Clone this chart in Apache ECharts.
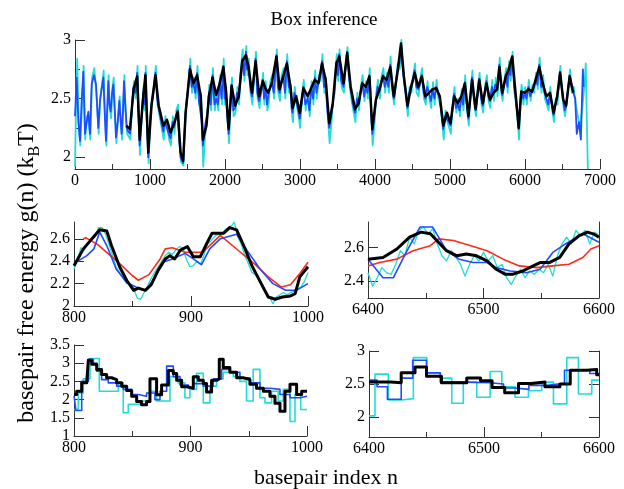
<!DOCTYPE html>
<html>
<head>
<meta charset="utf-8">
<script src="https://cdn.jsdelivr.net/npm/echarts@6/dist/echarts.min.js"></script>
<style>
html, body { margin: 0; padding: 0; background: #fff; }
#chart { width: 624px; height: 489px; }
</style>
</head>
<body>
<div id="chart"></div>
<script>
// ---- data: [basepair index, g(n)] ----
var topCyan = [[0,1.92],[15,2.5],[30,2.84],[50,2.3],[70,2.1],[95,2.45],[115,2.78],[135,2.15],[160,2.35],[182,2.3],[205,2.15],[228,2.68],[258,2.76],[285,2.55],[315,2.2],[338,2.52],[360,2.62],[382,2.74],[400,2.35],[418,2.1],[448,2.7],[465,2.42],[482,2.33],[500,2.6],[516,2.68],[535,2.35],[552,2.12],[575,2.35],[596,2.52],[610,2.3],[628,2.15],[645,2.45],[658,2.7],[675,2.4],[695,2.2],[715,2.18],[738,2.15],[762,2.45],[786,2.65],[810,2.5],[834,2.78],[850,2.35],[866,2.02],[890,2.35],[914,2.6],[930,2.4],[944,2.78],[962,2.25],[982,1.95],[1004,2.35],[1025,2.5],[1050,2.6],[1078,2.78],[1100,2.45],[1121,2.38],[1155,2.25],[1183,2.15],[1205,2.35],[1231,2.25],[1255,2.15],[1279,2.1],[1305,2.35],[1327,2.2],[1350,2.4],[1375,2.45],[1395,2.1],[1413,1.96],[1447,1.93],[1465,2.25],[1480,2.45],[1510,2.6],[1538,2.84],[1560,2.55],[1585,2.68],[1610,2.5],[1633,2.78],[1655,2.45],[1681,2.55],[1695,2.25],[1710,1.92],[1735,2.2],[1758,2.3],[1775,2.45],[1791,2.62],[1815,2.4],[1839,2.76],[1865,2.4],[1887,2.55],[1910,2.4],[1935,2.7],[1960,2.45],[1983,2.84],[2000,2.45],[2016,2.6],[2035,2.3],[2054,2.12],[2075,2.5],[2093,2.68],[2115,2.35],[2141,2.38],[2165,2.6],[2188,2.45],[2210,2.75],[2236,2.92],[2260,2.65],[2284,2.95],[2300,2.7],[2318,2.84],[2340,2.55],[2365,2.45],[2390,2.7],[2413,2.9],[2435,2.5],[2461,2.42],[2485,2.6],[2509,2.72],[2525,2.45],[2543,2.65],[2565,2.4],[2581,2.45],[2605,2.65],[2629,2.7],[2655,2.5],[2691,2.92],[2710,2.55],[2734,2.48],[2755,2.7],[2782,2.76],[2805,2.5],[2830,2.88],[2855,2.55],[2878,2.62],[2895,2.35],[2906,2.3],[2930,2.6],[2954,2.45],[2975,2.38],[3002,2.25],[3025,2.5],[3050,2.66],[3075,2.4],[3107,2.55],[3130,2.35],[3155,2.65],[3180,2.45],[3203,2.74],[3225,2.5],[3251,2.7],[3275,2.65],[3299,2.88],[3325,2.55],[3347,2.68],[3370,2.35],[3395,2.12],[3420,2.3],[3442,2.5],[3465,2.55],[3490,2.88],[3510,2.65],[3528,2.92],[3555,2.6],[3586,2.55],[3610,2.8],[3634,2.94],[3655,2.65],[3681,2.52],[3710,2.4],[3739,2.3],[3765,2.55],[3787,2.4],[3810,2.6],[3835,2.7],[3860,2.48],[3882,2.65],[3905,2.5],[3930,2.76],[3950,2.38],[3969,2.1],[3995,2.3],[4017,2.55],[4040,2.66],[4065,2.5],[4090,2.7],[4112,2.76],[4135,2.55],[4160,2.72],[4185,2.55],[4208,2.86],[4233,2.55],[4256,2.45],[4280,2.66],[4304,2.8],[4330,2.75],[4352,3.0],[4370,2.75],[4390,2.62],[4415,2.5],[4438,2.35],[4460,2.6],[4486,2.55],[4510,2.7],[4534,2.8],[4555,2.55],[4581,2.52],[4605,2.68],[4629,2.76],[4653,2.5],[4677,2.45],[4700,2.65],[4725,2.5],[4750,2.42],[4773,2.64],[4797,2.45],[4821,2.66],[4845,2.5],[4869,2.45],[4895,2.3],[4916,2.15],[4940,2.4],[4964,2.3],[4990,2.25],[5012,2.2],[5035,2.45],[5060,2.6],[5085,2.38],[5108,2.5],[5133,2.35],[5156,2.58],[5180,2.4],[5203,2.7],[5227,2.4],[5251,2.27],[5275,2.55],[5299,2.74],[5323,2.45],[5347,2.35],[5370,2.58],[5395,2.72],[5420,2.45],[5443,2.38],[5467,2.6],[5491,2.7],[5515,2.48],[5538,2.42],[5563,2.66],[5586,2.48],[5610,2.68],[5634,2.52],[5663,2.85],[5685,2.55],[5701,2.48],[5725,2.66],[5749,2.76],[5770,2.55],[5788,2.82],[5810,2.65],[5835,2.9],[5860,2.55],[5883,2.45],[5905,2.3],[5921,2.15],[5940,2.5],[5955,2.62],[5980,2.45],[6003,2.6],[6025,2.45],[6051,2.66],[6075,2.48],[6099,2.62],[6123,2.55],[6147,2.72],[6170,2.58],[6195,2.85],[6220,2.55],[6242,2.7],[6265,2.5],[6290,2.45],[6315,2.4],[6338,2.6],[6363,2.4],[6386,2.3],[6410,2.5],[6434,2.45],[6455,2.65],[6472,2.78],[6495,2.55],[6515,2.42],[6535,2.35],[6553,2.48],[6575,2.6],[6601,2.75],[6625,2.55],[6649,2.6],[6675,2.45],[6705,2.35],[6735,2.25],[6760,2.4],[6790,2.6],[6810,2.8],[6825,2.3],[6838,1.9]];

var topBlue = [[0,2.35],[22,2.68],[45,2.3],[67,2.14],[90,2.5],[111,2.73],[133,2.2],[155,2.3],[178,2.39],[200,2.2],[222,2.62],[253,2.7],[280,2.62],[311,2.25],[333,2.48],[355,2.58],[378,2.68],[395,2.4],[413,2.14],[444,2.65],[460,2.45],[476,2.39],[495,2.55],[511,2.62],[530,2.4],[547,2.17],[570,2.3],[591,2.48],[605,2.35],[622,2.2],[640,2.4],[653,2.65],[670,2.45],[689,2.25],[710,2.22],[733,2.2],[757,2.4],[781,2.6],[805,2.55],[829,2.72],[845,2.4],[862,2.1],[885,2.3],[910,2.55],[925,2.45],[939,2.72],[958,2.3],[977,2.0],[1000,2.3],[1020,2.45],[1045,2.55],[1073,2.72],[1095,2.5],[1116,2.42],[1150,2.3],[1178,2.22],[1200,2.3],[1226,2.3],[1250,2.2],[1274,2.16],[1300,2.3],[1322,2.26],[1345,2.35],[1370,2.4],[1390,2.15],[1408,2.0],[1442,1.95],[1460,2.2],[1475,2.38],[1505,2.55],[1533,2.78],[1555,2.6],[1580,2.62],[1605,2.55],[1628,2.72],[1650,2.5],[1676,2.5],[1690,2.3],[1705,2.1],[1730,2.25],[1753,2.25],[1770,2.4],[1786,2.55],[1810,2.45],[1834,2.7],[1860,2.45],[1882,2.5],[1905,2.45],[1930,2.65],[1955,2.5],[1978,2.78],[1995,2.5],[2011,2.55],[2030,2.35],[2049,2.2],[2070,2.45],[2088,2.62],[2110,2.4],[2136,2.42],[2160,2.55],[2183,2.5],[2205,2.7],[2231,2.84],[2255,2.7],[2279,2.9],[2295,2.75],[2313,2.78],[2335,2.6],[2360,2.52],[2385,2.65],[2408,2.84],[2430,2.55],[2456,2.48],[2480,2.55],[2504,2.66],[2520,2.5],[2538,2.6],[2560,2.45],[2576,2.52],[2600,2.6],[2624,2.64],[2650,2.55],[2686,2.87],[2705,2.6],[2729,2.55],[2750,2.65],[2777,2.7],[2800,2.55],[2825,2.82],[2850,2.6],[2873,2.58],[2890,2.4],[2901,2.38],[2925,2.55],[2949,2.5],[2970,2.42],[2997,2.33],[3020,2.45],[3045,2.6],[3070,2.45],[3102,2.5],[3125,2.4],[3150,2.6],[3175,2.5],[3198,2.68],[3220,2.55],[3246,2.64],[3270,2.7],[3294,2.82],[3320,2.6],[3342,2.62],[3365,2.4],[3390,2.25],[3415,2.35],[3437,2.45],[3460,2.6],[3485,2.82],[3505,2.7],[3523,2.88],[3550,2.65],[3581,2.6],[3605,2.75],[3629,2.9],[3650,2.7],[3676,2.58],[3705,2.45],[3734,2.38],[3760,2.5],[3782,2.45],[3805,2.55],[3830,2.64],[3855,2.52],[3877,2.6],[3900,2.55],[3925,2.7],[3945,2.45],[3964,2.2],[3990,2.35],[4012,2.48],[4035,2.6],[4060,2.56],[4085,2.65],[4107,2.7],[4130,2.6],[4155,2.66],[4180,2.6],[4203,2.79],[4228,2.6],[4251,2.5],[4275,2.6],[4299,2.74],[4325,2.8],[4347,2.97],[4365,2.8],[4385,2.68],[4410,2.55],[4433,2.42],[4455,2.55],[4481,2.6],[4505,2.65],[4529,2.74],[4550,2.6],[4576,2.58],[4600,2.62],[4624,2.7],[4648,2.55],[4672,2.5],[4695,2.6],[4720,2.55],[4745,2.48],[4768,2.58],[4792,2.5],[4816,2.6],[4840,2.55],[4864,2.5],[4890,2.35],[4911,2.24],[4935,2.35],[4959,2.36],[4985,2.3],[5007,2.27],[5030,2.4],[5055,2.54],[5080,2.42],[5103,2.45],[5128,2.4],[5151,2.52],[5175,2.45],[5198,2.64],[5222,2.45],[5246,2.33],[5270,2.5],[5294,2.68],[5318,2.5],[5342,2.4],[5365,2.52],[5390,2.67],[5415,2.5],[5438,2.44],[5462,2.55],[5486,2.65],[5510,2.52],[5533,2.48],[5558,2.6],[5581,2.54],[5605,2.62],[5629,2.58],[5658,2.79],[5680,2.6],[5696,2.53],[5720,2.6],[5744,2.7],[5765,2.6],[5783,2.76],[5805,2.7],[5830,2.86],[5855,2.6],[5878,2.5],[5900,2.35],[5916,2.24],[5935,2.45],[5950,2.56],[5975,2.5],[5998,2.55],[6020,2.5],[6046,2.6],[6070,2.52],[6094,2.56],[6118,2.6],[6142,2.67],[6165,2.62],[6190,2.79],[6215,2.6],[6237,2.64],[6260,2.55],[6285,2.5],[6310,2.45],[6333,2.55],[6358,2.45],[6381,2.36],[6405,2.45],[6429,2.52],[6450,2.6],[6467,2.73],[6490,2.6],[6510,2.48],[6530,2.4],[6548,2.43],[6570,2.55],[6596,2.7],[6620,2.6],[6644,2.55],[6670,2.5],[6690,2.2],[6720,2.3],[6745,2.15],[6760,2.5],[6772,2.75],[6780,2.6]];

var topBlack = [[685,2.27],[733,2.24],[781,2.58],[829,2.69],[862,2.15],[910,2.52],[939,2.70],[977,2.04],[1020,2.44],[1073,2.70],[1116,2.44],[1178,2.27],[1226,2.32],[1274,2.21],[1322,2.29],[1370,2.39],[1408,2.04],[1442,1.97],[1475,2.38],[1533,2.75],[1580,2.63],[1628,2.70],[1676,2.52],[1705,2.15],[1753,2.27],[1786,2.52],[1834,2.68],[1882,2.53],[1930,2.63],[1978,2.77],[2011,2.58],[2049,2.24],[2088,2.61],[2136,2.44],[2183,2.52],[2231,2.82],[2279,2.87],[2313,2.77],[2360,2.55],[2408,2.82],[2456,2.52],[2504,2.65],[2538,2.59],[2576,2.55],[2624,2.63],[2686,2.86],[2729,2.58],[2777,2.69],[2825,2.80],[2873,2.60],[2901,2.42],[2949,2.52],[2997,2.38],[3045,2.59],[3102,2.52],[3150,2.59],[3198,2.66],[3246,2.63],[3294,2.80],[3342,2.66],[3390,2.29],[3437,2.46],[3485,2.80],[3523,2.86],[3581,2.63],[3629,2.89],[3676,2.60],[3734,2.41],[3782,2.46],[3830,2.63],[3877,2.60],[3925,2.69],[3964,2.24],[4012,2.49],[4060,2.58],[4107,2.69],[4155,2.66],[4203,2.77],[4251,2.52],[4299,2.72],[4347,2.97],[4385,2.69],[4433,2.44],[4481,2.60],[4529,2.72],[4576,2.60],[4624,2.69],[4672,2.52],[4720,2.55],[4768,2.58],[4816,2.59],[4864,2.52],[4911,2.27],[4959,2.38],[5007,2.29],[5055,2.52],[5103,2.46],[5151,2.52],[5198,2.63],[5246,2.35],[5294,2.66],[5342,2.41],[5390,2.66],[5438,2.46],[5486,2.63],[5533,2.49],[5581,2.55],[5629,2.58],[5658,2.77],[5696,2.55],[5744,2.69],[5783,2.75],[5830,2.86],[5878,2.52],[5916,2.25],[5950,2.56],[5998,2.55],[6046,2.58],[6094,2.56],[6142,2.66],[6190,2.77],[6237,2.63],[6285,2.52],[6333,2.55],[6381,2.38],[6429,2.52],[6467,2.72],[6510,2.49],[6548,2.44],[6596,2.69],[6644,2.55]];

// window 800-1000, smoothed estimates
var midLCyan = [[800,2.33],[803,2.42],[806,2.52],[809,2.5],[812,2.56],[815,2.6],[818,2.62],[821,2.7],[824,2.7],[827,2.64],[830,2.55],[833,2.45],[836,2.35],[839,2.3],[842,2.25],[845,2.2],[848,2.2],[851,2.16],[854,2.07],[857,2.06],[860,2.12],[863,2.18],[866,2.25],[869,2.3],[872,2.35],[875,2.4],[878,2.45],[881,2.48],[884,2.46],[887,2.5],[890,2.53],[893,2.52],[896,2.42],[899,2.35],[902,2.36],[905,2.4],[908,2.37],[911,2.45],[914,2.55],[917,2.58],[920,2.62],[923,2.64],[926,2.63],[929,2.68],[932,2.7],[935,2.72],[937,2.75],[940,2.62],[943,2.55],[946,2.45],[949,2.38],[952,2.3],[955,2.28],[958,2.25],[961,2.18],[964,2.12],[967,2.08],[970,2.02],[973,2.08],[976,2.1],[979,2.12],[982,2.1],[985,2.12],[988,2.13],[991,2.15],[994,2.17],[997,2.22],[1000,2.3]];
var midLRed = [[808,2.6],[810,2.61],[820,2.55],[830,2.46],[840,2.37],[850,2.27],[855,2.23],[864,2.28],[873,2.41],[878,2.51],[884,2.52],[895,2.48],[902,2.48],[910,2.48],[919,2.57],[925,2.63],[940,2.5],[955,2.37],[965,2.27],[977,2.17],[985,2.19],[993,2.29],[1000,2.39]];
var midLBlue = [[800,2.38],[811,2.45],[817,2.51],[822,2.66],[828,2.54],[836,2.33],[845,2.21],[853,2.17],[861,2.14],[869,2.25],[876,2.39],[884,2.42],[895,2.47],[902,2.42],[909,2.37],[916,2.51],[925,2.6],[939,2.64],[947,2.51],[959,2.33],[970,2.2],[981,2.14],[990,2.14],[1000,2.2]];
var midLBlack = [[800,2.36],[808,2.51],[817,2.62],[822,2.68],[828,2.67],[832,2.54],[839,2.35],[845,2.23],[851,2.14],[855,2.16],[861,2.14],[866,2.19],[872,2.32],[878,2.42],[882,2.45],[886,2.42],[891,2.5],[897,2.53],[902,2.44],[908,2.44],[914,2.57],[918,2.65],[928,2.65],[933,2.7],[939,2.68],[945,2.54],[952,2.36],[959,2.22],[966,2.08],[972,2.06],[978,2.08],[985,2.09],[989,2.11],[993,2.26],[1000,2.35]];

// window 6400-6600
var midRCyan = [[6400,2.45],[6404,2.37],[6408,2.42],[6412,2.48],[6416,2.45],[6420,2.44],[6424,2.5],[6428,2.58],[6432,2.55],[6436,2.66],[6440,2.62],[6444,2.7],[6448,2.72],[6452,2.68],[6456,2.71],[6460,2.62],[6464,2.55],[6468,2.52],[6472,2.58],[6476,2.54],[6480,2.5],[6484,2.43],[6488,2.5],[6492,2.55],[6496,2.52],[6500,2.57],[6504,2.52],[6508,2.55],[6512,2.48],[6516,2.5],[6520,2.42],[6524,2.38],[6528,2.43],[6532,2.47],[6536,2.42],[6540,2.46],[6544,2.44],[6548,2.47],[6552,2.45],[6556,2.5],[6560,2.43],[6564,2.55],[6568,2.62],[6572,2.66],[6576,2.62],[6580,2.7],[6584,2.67],[6588,2.7],[6592,2.62],[6596,2.69],[6600,2.67]];
var midRRed = [[6400,2.49],[6410,2.51],[6425,2.53],[6439,2.58],[6454,2.61],[6461,2.65],[6474,2.64],[6489,2.61],[6503,2.58],[6517,2.53],[6531,2.49],[6546,2.48],[6560,2.49],[6574,2.5],[6586,2.54],[6593,2.59],[6600,2.61]];
var midRBlue = [[6400,2.53],[6413,2.42],[6422,2.42],[6433,2.57],[6445,2.72],[6456,2.72],[6468,2.58],[6479,2.53],[6491,2.51],[6503,2.51],[6511,2.48],[6523,2.46],[6537,2.45],[6549,2.47],[6560,2.57],[6571,2.62],[6586,2.68],[6600,2.63]];
var midRBlack = [[6400,2.53],[6413,2.54],[6425,2.59],[6436,2.66],[6446,2.69],[6454,2.68],[6461,2.63],[6468,2.58],[6477,2.55],[6485,2.56],[6494,2.55],[6503,2.52],[6511,2.47],[6519,2.44],[6525,2.44],[6534,2.46],[6543,2.49],[6549,2.51],[6557,2.51],[6566,2.54],[6574,2.62],[6583,2.67],[6590,2.69],[6595,2.68],[6600,2.66]];

// box (step) estimates, each value holds until the next index
var botLCyan = [[800,1.73],[803.7,2.18],[808,2.57],[813.7,3.13],[821.7,2.23],[838.1,2.46],[842.3,1.64],[846.6,1.87],[856.6,1.96],[860.9,1.98],[865.2,2.23],[870.9,1.96],[882.4,2.63],[889.5,2.46],[895.2,2.05],[899.5,2.28],[905.2,2.72],[911,1.91],[916.7,2.37],[922.4,2.57],[928.1,2.75],[936.7,2.63],[942.4,2.5],[948.1,1.96],[953.8,2.83],[959.6,2.05],[963.9,1.91],[969.6,2.23],[975.3,1.96],[979.6,2.28],[985.4,1.4],[989.7,2.14],[994.6,1.73],[1000,1.73]];
var botLBlue = [[800,2.1],[801.7,1.7],[806.6,2.5],[812.3,3.11],[816.6,3.0],[819.5,2.78],[823.7,2.55],[829.4,2.46],[836.6,2.37],[842.3,2.28],[849.5,2.14],[855.2,2.09],[862.3,2.18],[869.5,2.0],[873.8,2.23],[879.5,2.92],[885.2,2.63],[891,2.4],[898.1,2.31],[902.4,2.44],[911,2.37],[919.6,2.57],[926.7,2.83],[933.8,2.75],[942.4,2.6],[951,2.46],[959.6,2.31],[968.2,2.28],[976.8,2.14],[985.4,2.05],[994,2.09],[1000,2.09]];
var botLBlack = [[800,2.14],[802.3,2.23],[806.6,2.46],[810.9,2.5],[812.3,3.08],[815.2,2.97],[819.5,2.83],[823.7,2.69],[828,2.6],[832.3,2.55],[836.6,2.46],[840.9,2.37],[845.2,2.25],[849.5,2.09],[853.8,1.95],[858,1.86],[862.3,1.95],[865.2,2.57],[870.9,2.13],[875.2,2.4],[881,2.8],[885.2,2.72],[888.1,2.53],[892.4,2.35],[898.1,2.31],[902.4,2.63],[906.7,2.53],[911,2.44],[913.8,2.21],[918.1,2.53],[922.4,2.57],[924.7,3.11],[928.1,2.88],[933.8,2.75],[939.6,2.6],[945.3,2.55],[951,2.42],[956.7,2.31],[962.5,2.23],[968.2,2.09],[972.5,1.9],[976.8,1.68],[981.1,2.23],[985.4,2.42],[991.1,2.14],[995.4,2.23],[1000,2.23]];

var botRCyan = [[6400,2.02],[6405.2,2.65],[6416.8,2.26],[6428.4,2.28],[6438.6,2.9],[6450.2,2.67],[6461.8,2.59],[6472,2.21],[6482,2.53],[6493.7,2.3],[6505.3,2.69],[6515.5,2.46],[6527,2.3],[6538.6,2.4],[6550.2,2.53],[6560.4,2.2],[6572,2.9],[6582.1,2.35],[6593.7,2.56],[6600,2.56]];
var botRBlue = [[6400,2.56],[6407,2.46],[6416,2.27],[6428,2.59],[6438,2.86],[6450,2.67],[6462,2.53],[6482,2.52],[6505,2.5],[6517,2.44],[6527,2.42],[6539,2.48],[6555,2.51],[6570,2.71],[6592,2.66],[6600,2.66]];
var botRBlack = [[6400,2.53],[6419,2.52],[6428,2.67],[6440,2.76],[6450,2.62],[6463,2.52],[6485,2.59],[6497,2.55],[6507,2.45],[6518,2.37],[6530,2.51],[6541,2.53],[6553,2.46],[6566,2.5],[6575,2.71],[6589,2.72],[6598,2.64],[6600,2.64]];

// tick values
var topXTicks = [0, 1000, 2000, 3000, 4000, 5000, 6000, 7000];
var topXMinor = [500, 1500, 2500, 3500, 4500, 5500, 6500];
var topYTicks = [2, 2.5, 3];
var topYMinor = [2.25, 2.75];
var leftXTicks = [800, 900, 1000];
var leftXMinor = [850, 950];
var rightXTicks = [6400, 6500, 6600];
var rightXMinor = [6450, 6550];
var midLYTicks = [2, 2.2, 2.4, 2.6];
var midRYTicks = [2.4, 2.6];
var botLYTicks = [1, 1.5, 2, 2.5, 3, 3.5];
var botRYTicks = [2, 2.5, 3];

var serif = "'Liberation Serif', 'DejaVu Serif', serif";
var axisColor = '#333';
var cyan = '#22dcd6';
var blue = '#1f4cff';
var red = '#ff2a1a';

var myChart = echarts.init(document.getElementById('chart'), null, { renderer: 'canvas' });

var grids = [
    { left: 75, top: 40, width: 525, height: 129 },   // top
    { left: 74, top: 222, width: 234, height: 84 },   // middle left
    { left: 368, top: 222, width: 231, height: 76 },  // middle right
    { left: 74, top: 345, width: 233, height: 91 },   // bottom left
    { left: 369, top: 351, width: 230, height: 86 }   // bottom right
];

var xAxes = [];
var yAxes = [];

function plain(v) {
    return String(v);
}

function addX(grid, min, max, major, minor) {
    xAxes.push({
        type: 'value', gridIndex: grid, min: min, max: max, position: 'bottom',
        axisLine: { show: true, onZero: false, lineStyle: { color: axisColor, width: 1 } },
        axisTick: { show: true, inside: true, length: 10, customValues: major, lineStyle: { color: axisColor } },
        axisLabel: { show: true, customValues: major, formatter: plain, fontFamily: serif, fontSize: 16, color: '#000', margin: 4 },
        splitLine: { show: false }
    });
    var idx = xAxes.length - 1;
    xAxes.push({
        type: 'value', gridIndex: grid, min: min, max: max, position: 'bottom',
        axisLine: { show: false, onZero: false },
        axisTick: { show: true, inside: true, length: 5, customValues: minor, lineStyle: { color: axisColor } },
        axisLabel: { show: false },
        splitLine: { show: false }
    });
    return idx;
}

function addY(grid, min, max, major, minor, withRight) {
    yAxes.push({
        type: 'value', gridIndex: grid, min: min, max: max, position: 'left',
        axisLine: { show: true, onZero: false, lineStyle: { color: axisColor, width: 1 } },
        axisTick: { show: true, inside: true, length: 10, customValues: major, lineStyle: { color: axisColor } },
        axisLabel: { show: true, customValues: major, formatter: plain, fontFamily: serif, fontSize: 16, color: '#000', margin: 4 },
        splitLine: { show: false }
    });
    var idx = yAxes.length - 1;
    if (minor) {
        yAxes.push({
            type: 'value', gridIndex: grid, min: min, max: max, position: 'left',
            axisLine: { show: false, onZero: false },
            axisTick: { show: true, inside: true, length: 5, customValues: minor, lineStyle: { color: axisColor } },
            axisLabel: { show: false },
            splitLine: { show: false }
        });
    }
    if (withRight) {
        yAxes.push({
            type: 'value', gridIndex: grid, min: min, max: max, position: 'right',
            axisLine: { show: true, onZero: false, lineStyle: { color: axisColor, width: 1 } },
            axisTick: { show: withRight === 'ticks', inside: true, length: 10, customValues: major, lineStyle: { color: axisColor } },
            axisLabel: { show: false },
            splitLine: { show: false }
        });
    }
    return idx;
}

var ax = [];
ax[0] = [addX(0, 0, 7000, topXTicks, topXMinor), addY(0, 1.9, 3, topYTicks, topYMinor, false)];
ax[1] = [addX(1, 800, 1000, leftXTicks, leftXMinor), addY(1, 2, 2.75, midLYTicks, null, false)];
ax[2] = [addX(2, 6400, 6600, rightXTicks, rightXMinor), addY(2, 2.3, 2.75, midRYTicks, null, 'line')];
ax[3] = [addX(3, 800, 1000, leftXTicks, leftXMinor), addY(3, 1, 3.5, botLYTicks, null, false)];
ax[4] = [addX(4, 6400, 6600, rightXTicks, rightXMinor), addY(4, 1.7, 3, botRYTicks, null, 'ticks')];

function line(panel, data, color, width, step) {
    return {
        type: 'line', xAxisIndex: ax[panel][0], yAxisIndex: ax[panel][1],
        data: data, showSymbol: false, symbol: 'none', step: step || false,
        lineStyle: { color: color, width: width, join: 'round' },
        clip: true, silent: true
    };
}

var option = {
    backgroundColor: '#fff',
    animation: false,
    grid: grids,
    xAxis: xAxes,
    yAxis: yAxes,
    graphic: [
        {
            type: 'text', x: 324, y: 20,
            style: { text: 'Box inference', fontFamily: serif, fontSize: 19, fill: '#000',
                     align: 'center', verticalAlign: 'middle', textAlign: 'center', textVerticalAlign: 'middle' }
        },
        {
            type: 'text', x: 326, y: 478,
            style: { text: 'basepair index n', fontFamily: serif, fontSize: 22, fill: '#000',
                     align: 'center', verticalAlign: 'middle', textAlign: 'center', textVerticalAlign: 'middle' }
        },
        {
            type: 'text', x: 27, y: 273, rotation: Math.PI / 2,
            style: {
                text: 'basepair free energy g(n) (k{sub|B}T)',
                fontFamily: serif, fontSize: 24, fill: '#000', lineHeight: 32,
                align: 'center', verticalAlign: 'middle', textAlign: 'center', textVerticalAlign: 'middle',
                rich: { sub: { fontFamily: serif, fontSize: 16, fill: '#000', verticalAlign: 'bottom', lineHeight: 15 } }
            }
        }
    ],
    series: [
        line(0, topCyan, cyan, 1.8),
        line(0, topBlue, blue, 1.8),
        line(0, topBlack, '#000', 2.5),
        line(1, midLCyan, cyan, 1.3),
        line(1, midLRed, red, 1.6),
        line(1, midLBlue, blue, 1.6),
        line(1, midLBlack, '#000', 3),
        line(2, midRCyan, cyan, 1.3),
        line(2, midRRed, red, 1.6),
        line(2, midRBlue, blue, 1.6),
        line(2, midRBlack, '#000', 3),
        line(3, botLCyan, cyan, 1.6, 'end'),
        line(3, botLBlue, blue, 1.6, 'end'),
        line(3, botLBlack, '#000', 3, 'end'),
        line(4, botRCyan, cyan, 1.6, 'end'),
        line(4, botRBlue, blue, 1.6, 'end'),
        line(4, botRBlack, '#000', 3, 'end')
    ]
};

myChart.setOption(option);
window.addEventListener('resize', myChart.resize);
</script>
</body>
</html>
